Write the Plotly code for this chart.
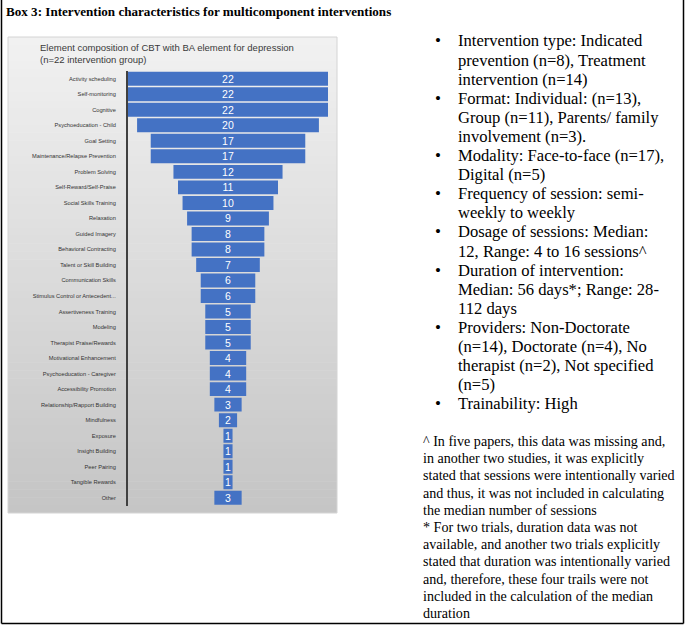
import plotly.graph_objects as go

W, H = 685, 625

# ---------------- data ----------------
elements = [
    "Activity scheduling", "Self-monitoring", "Cognitive", "Psychoeducation - Child",
    "Goal Setting", "Maintenance/Relapse Prevention", "Problem Solving",
    "Self-Reward/Self-Praise", "Social Skills Training", "Relaxation", "Guided Imagery",
    "Behavioral Contracting", "Talent or Skill Building", "Communication Skills",
    "Stimulus Control or Antecedent...", "Assertiveness Training", "Modeling",
    "Therapist Praise/Rewards", "Motivational Enhancement", "Psychoeducation - Caregiver",
    "Accessibility Promotion", "Relationship/Rapport Building", "Mindfulness", "Exposure",
    "Insight Building", "Peer Pairing", "Tangible Rewards", "Other",
]
counts = [22, 22, 22, 20, 17, 17, 12, 11, 10, 9, 8, 8, 7, 6, 6, 5, 5, 5, 4, 4, 4, 3, 2, 1, 1, 1, 1, 3]

box_title = "Box 3: Intervention characteristics for multicomponent interventions"
chart_title_lines = ["Element composition of CBT with BA element for depression",
                     "(n=22 intervention group)"]

bullets = [
    ["Intervention type: Indicated", "prevention (n=8), Treatment", "intervention (n=14)"],
    ["Format: Individual: (n=13),", "Group (n=11), Parents/ family", "involvement (n=3)."],
    ["Modality: Face-to-face (n=17),", "Digital (n=5)"],
    ["Frequency of session: semi-", "weekly to weekly"],
    ["Dosage of sessions: Median:", "12, Range: 4 to 16 sessions^"],
    ["Duration of intervention:", "Median: 56 days*; Range: 28-", "112 days"],
    ["Providers: Non-Doctorate", "(n=14), Doctorate (n=4), No", "therapist (n=2), Not specified", "(n=5)"],
    ["Trainability: High"],
]

footnotes = [
    "^ In five papers, this data was missing and,",
    "in another two studies, it was explicitly",
    "stated that sessions were intentionally varied",
    "and thus, it was not included in calculating",
    "the median number of sessions",
    "* For two trials, duration data was not",
    "available, and another two trials explicitly",
    "stated that duration was intentionally varied",
    "and, therefore, these four trails were not",
    "included in the calculation of the median",
    "duration",
]

# ---------------- helpers ----------------
def px(x):
    return x / W

def py(y):
    return 1 - y / H

fig = go.Figure(go.Funnel(
    y=elements, x=counts,
    textinfo="value", textposition="inside",
    insidetextfont=dict(color="white", size=10.5, family="Liberation Sans, Arial"),
    marker=dict(color="#4472C4", line=dict(width=0)),
    connector=dict(visible=False),
    constraintext="none",
    hoverinfo="y+x",
))

shapes = []
# gradient grey panel
p_x0, p_x1, p_y0, p_y1 = 8, 337, 37, 513
n = 60
c0, c1 = (241, 241, 241), (197, 197, 197)
for i in range(n):
    t = i / (n - 1)
    c = tuple(round(c0[k] + (c1[k] - c0[k]) * t) for k in range(3))
    ya = p_y0 + (p_y1 - p_y0) * i / n
    yb = p_y0 + (p_y1 - p_y0) * (i + 1) / n + 0.6
    shapes.append(dict(type="rect", xref="paper", yref="paper", layer="below",
                       x0=px(p_x0), x1=px(p_x1), y0=py(min(yb, p_y1)), y1=py(ya),
                       fillcolor="rgb(%d,%d,%d)" % c, line=dict(width=0)))
shapes.append(dict(type="rect", xref="paper", yref="paper", layer="below",
                   x0=px(p_x0), x1=px(p_x1), y0=py(p_y1), y1=py(p_y0),
                   fillcolor="rgba(0,0,0,0)", line=dict(color="#d4d4d4", width=1)))
# outer box borders
for (x0, y0, x1, y1) in [(1.5, 0, 1.5, 623.5), (683.5, 0, 683.5, 623.5), (1.5, 623.5, 683.5, 623.5)]:
    shapes.append(dict(type="line", xref="paper", yref="paper",
                       x0=px(x0), x1=px(x1), y0=py(y0), y1=py(y1),
                       line=dict(color="black", width=1.5)))

ann = []
def add_text(text, x, y, size, family, color="black"):
    ann.append(dict(text=text, x=px(x), y=py(y), xref="paper", yref="paper",
                    xanchor="left", yanchor="middle", showarrow=False,
                    font=dict(family=family, size=size, color=color)))

SERIF = "Liberation Serif, Times New Roman, serif"
SANS = "Liberation Sans, Arial, sans-serif"

add_text("<b>" + box_title + "</b>", 4, 12, 13.1, SERIF)
for i, line in enumerate(chart_title_lines):
    add_text(line, 38, 47 + 12 * i, 9.5, SANS, "#3a3a3a")

ly = 41.0
step = 19.1
for item in bullets:
    add_text("\u2022", 433, ly, 17, SERIF)
    for line in item:
        add_text(line, 456, ly, 16.6, SERIF)
        ly += step

fy = 441.0
for line in footnotes:
    add_text(line, 421, fy, 14.1, SERIF)
    fy += 17.2

fig.update_layout(
    width=W, height=H, autosize=False,
    margin=dict(l=0, r=0, t=0, b=0),
    paper_bgcolor="white", plot_bgcolor="rgba(0,0,0,0)",
    showlegend=False,
    funnelgap=0.1,
    xaxis=dict(domain=[px(128), px(328)], range=[-11, 11], visible=False, fixedrange=True),
    yaxis=dict(domain=[py(505.5), py(71)], autorange="reversed", showline=True,
               linecolor="#404040", linewidth=2, ticks="", ticklabelstandoff=9,
               tickfont=dict(family=SANS, size=5.7, color="#333333"),
               showgrid=False, zeroline=False, fixedrange=True),
    shapes=shapes, annotations=ann,
)

fig.write_html("out.html", config={"displayModeBar": False},
               post_script="document.body.style.margin='0';document.body.style.overflow='hidden';")
